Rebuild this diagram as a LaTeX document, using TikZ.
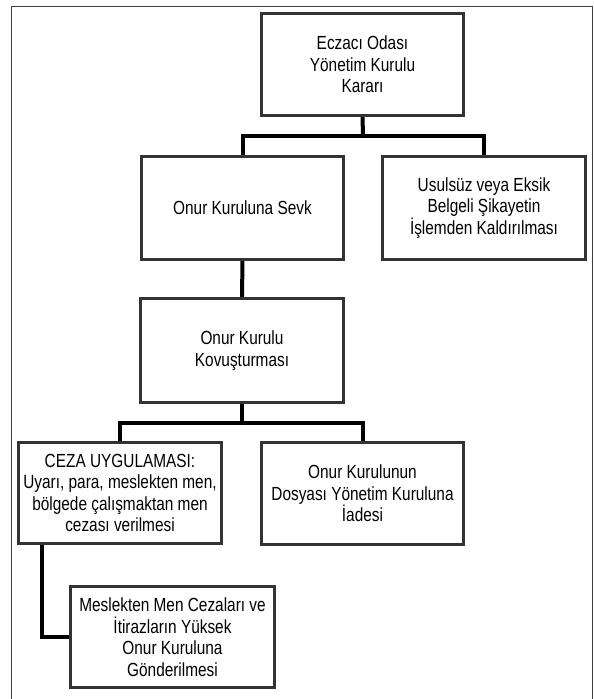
\documentclass[tikz,border=0pt]{standalone}
\usepackage{fontspec}
\setmainfont{Liberation Sans}[FakeStretch=0.81]
\begin{document}
\begin{tikzpicture}[x=1pt,y=-1pt,
  box/.style={draw=black!80,line width=2pt,fill=white,align=center,inner sep=0pt,
    font=\fontsize{19}{21.5}\selectfont},
  conn/.style={line width=4pt,black},
  framecol/.style={draw=black!75,line width=1pt}]
\useasboundingbox (0,0) rectangle (594,699);
\draw[framecol] (11,699) -- (11,6) -- (592,6) -- (592,699);
% boxes
\node[box,minimum width=201pt,minimum height=101pt] (b1) at (362.5,64.5) {Eczacı Odası\\Yönetim Kurulu\\Kararı};
\node[box,minimum width=201pt,minimum height=102pt] (b2) at (242.5,208) {Onur Kuruluna Sevk};
\node[box,minimum width=202pt,minimum height=102pt] (b3) at (484,208) {Usulsüz veya Eksik\\Belgeli Şikayetin\\İşlemden Kaldırılması};
\node[box,minimum width=202pt,minimum height=103pt] (b4) at (242,350.5) {Onur Kurulu\\Kovuşturması};
\node[box,minimum width=202pt,minimum height=100pt] (b5) at (120,493) {CEZA UYGULAMASI:\\Uyarı, para, meslekten men,\\bölgede çalışmaktan men\\cezası verilmesi};
\node[box,minimum width=201pt,minimum height=101pt] (b6) at (362.5,493.5) {Onur Kurulunun\\Dosyası Yönetim Kuruluna\\İadesi};
\node[box,minimum width=203pt,minimum height=100pt] (b7) at (172.5,637) {Meslekten Men Cezaları ve\\İtirazların Yüksek\\Onur Kuruluna\\Gönderilmesi};
% connector junctions
\coordinate (j1) at (363,136);
\coordinate (j2) at (242,423);
\draw[conn] (b1.south) -- (j1);
\draw[conn,line join=miter] (b2.north) |- (j1) -| (b3.north);
\draw[conn] (b2.south) -- (b4.north);
\draw[conn] (b4.south) -- (j2);
\draw[conn] (b5.north) |- (j2) -| (b6.north);
\draw[conn] (b5.south -| 42,0) |- (b7.west);
% redraw box borders on top of connector ends
\foreach \n in {b1,b2,b3,b4,b5,b6,b7}{\draw[draw=black!80,line width=2pt] (\n.south west) rectangle (\n.north east);}
\end{tikzpicture}
\end{document}
